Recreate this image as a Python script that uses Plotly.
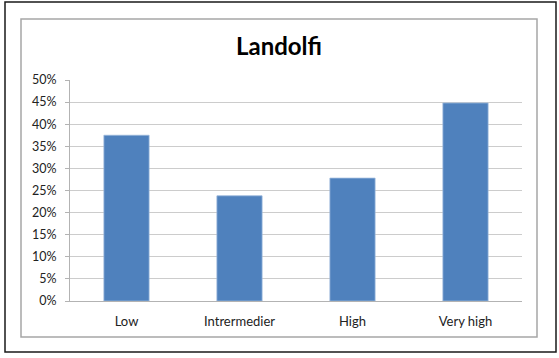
import plotly.graph_objects as go

categories = ["Low", "Intrermedier", "High", "Very high"]
values = [0.375, 0.238, 0.278, 0.448]
y_ticks = [0, 0.05, 0.10, 0.15, 0.20, 0.25, 0.30, 0.35, 0.40, 0.45, 0.50]
y_tick_labels = ["0%", "5%", "10%", "15%", "20%", "25%", "30%", "35%", "40%", "45%", "50%"]
title_text = "Landolfi"

W, H = 559, 358
L, R, T, B = 70, 522, 80, 301

def px(x):
    return (x - L) / (R - L)

def py(y):
    return (B - y) / (B - T)

fig = go.Figure(go.Bar(
    x=categories, y=values,
    marker=dict(color="#4f81bd", line=dict(color="#9bb7dc", width=0.8)),
    width=0.4,
))

fig.update_layout(
    width=W, height=H,
    margin=dict(l=L, r=W - R, t=T, b=H - B),
    paper_bgcolor="white", plot_bgcolor="white",
    showlegend=False,
    font=dict(family="Lato, Open Sans, sans-serif", size=13, color="#222222"),
    title=dict(text="<b>" + title_text + "</b>", x=px(279), xref="paper", xanchor="center",
               y=1 - 47 / H, yanchor="middle",
               font=dict(size=24, color="#000000", family="Lato, Open Sans, sans-serif")),
    xaxis=dict(showgrid=False, showline=True, linecolor="#b3b3b3", linewidth=1,
               ticks="", tickfont=dict(size=13, color="#222222"), ticklabelstandoff=8),
    yaxis=dict(range=[0, 0.5], tickvals=y_ticks, ticktext=y_tick_labels,
               showgrid=True, gridcolor="#cccccc", gridwidth=1.3,
               showline=True, linecolor="#b3b3b3", linewidth=1,
               ticks="outside", ticklen=4, tickcolor="#b3b3b3", ticklabelstandoff=6,
               tickfont=dict(size=12.5, color="#222222"), zeroline=False),
    shapes=[
        dict(type="rect", xref="paper", yref="paper",
             x0=px(5), x1=px(556), y0=py(2), y1=py(352),
             line=dict(color="#1a1a1a", width=1.5), layer="below"),
        dict(type="rect", xref="paper", yref="paper",
             x0=px(21), x1=px(537), y0=py(19), y1=py(337),
             line=dict(color="#a6a6a6", width=1.5), layer="below"),
    ],
)

fig.write_html("out.html", config={"displayModeBar": False},
               post_script="document.body.style.margin='0px';")
